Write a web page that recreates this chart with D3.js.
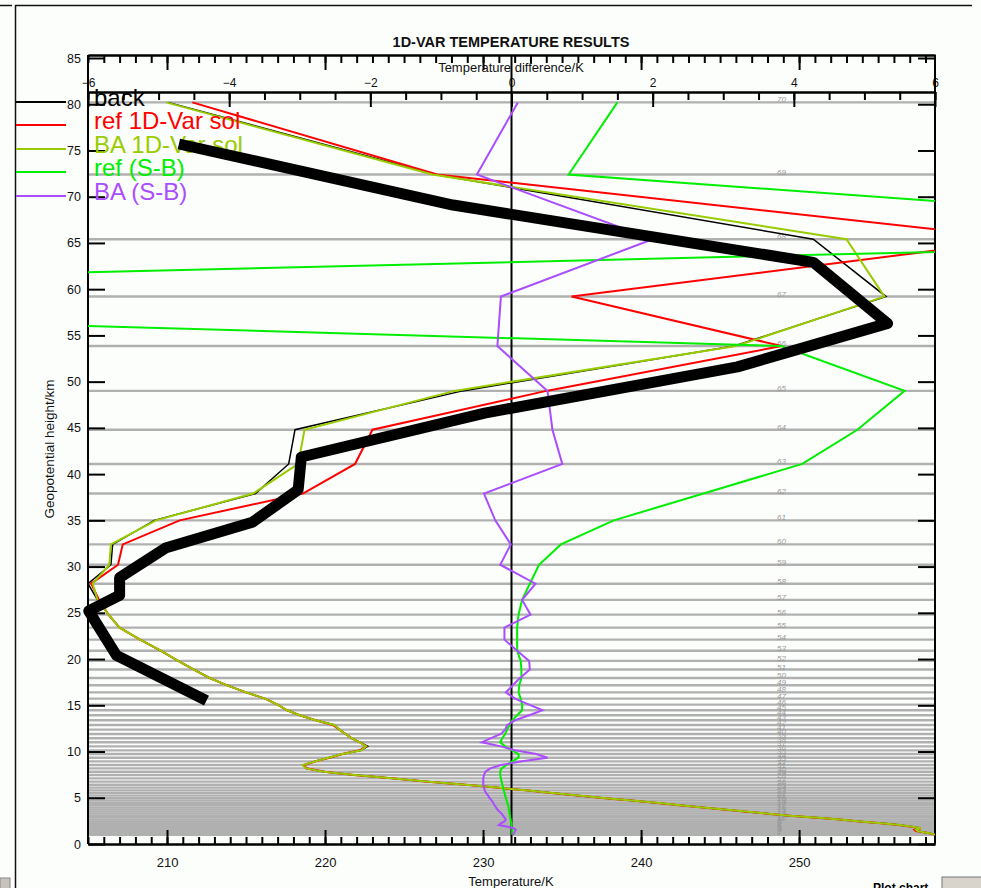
<!DOCTYPE html>
<html>
<head>
<meta charset="utf-8">
<script src="https://cdn.jsdelivr.net/npm/d3@7"></script>
<style>
  body { margin: 0; background: #fcfefc; }
  svg { display: block; font-family: "Liberation Sans", Arial, sans-serif; }
</style>
</head>
<body>
<div id="chart"></div>
<script>
// model levels (number, geopotential height in km)
const levelNumbers = [1, 2, 3, 4, 5, 6, 7, 8, 9, 10,
  11, 12, 13, 14, 15, 16, 17, 18, 19, 20,
  21, 22, 23, 24, 25, 26, 27, 28, 29, 30,
  31, 32, 33, 34, 35, 36, 37, 38, 39, 40,
  41, 42, 43, 44, 45, 46, 47, 48, 49, 50,
  51, 52, 53, 54, 55, 56, 57, 58, 59, 60,
  61, 62, 63, 64, 65, 66, 67, 68, 69, 70];
const levelHeights = [1.00, 1.12, 1.25, 1.39, 1.54, 1.70, 1.87, 2.05, 2.24, 2.44,
  2.64, 2.85, 3.06, 3.28, 3.50, 3.73, 3.96, 4.20, 4.45, 4.70,
  4.96, 5.23, 5.51, 5.80, 6.10, 6.41, 6.74, 7.10, 7.46, 7.82,
  8.18, 8.54, 8.94, 9.33, 9.73, 10.13, 10.56, 11.00, 11.43, 11.90,
  12.37, 12.87, 13.38, 13.92, 14.46, 15.07, 15.72, 16.40, 17.16, 17.95,
  18.87, 19.80, 20.90, 22.10, 23.40, 24.80, 26.40, 28.15, 30.20, 32.40,
  35.00, 37.90, 41.10, 44.80, 49.00, 53.85, 59.20, 65.40, 72.40, 80.20];

// temperatures (K) on the levels
const backTemp = [258.6, 258.4, 258.0, 257.5, 257.4, 257.7, 257.2, 256.4, 255.2, 253.9,
  252.6, 251.2, 249.4, 248.1, 246.7, 245.3, 243.9, 242.5, 240.9, 239.4,
  237.8, 236.1, 234.4, 232.7, 230.9, 228.9, 226.6, 224.2, 221.9, 219.9,
  218.8, 218.6, 219.4, 220.2, 221.1, 222.3, 222.7, 222.2, 221.7, 221.3,
  220.9, 220.6, 219.4, 218.4, 217.6, 217.0, 216.2, 215.0, 213.8, 212.7,
  211.7, 210.7, 209.6, 208.3, 207.0, 206.3, 205.6, 205.0, 206.45, 206.56,
  209.2, 215.6, 217.7, 218.1, 228.7, 245.9, 255.5, 250.9, 227.0, 210.06];
const refSolTemp = [258.6, 258.3, 258.0, 257.4, 257.3, 257.7, 257.1, 256.3, 255.2, 253.8,
  252.6, 251.1, 249.4, 248.0, 246.7, 245.2, 243.9, 242.4, 240.9, 239.4,
  237.7, 236.1, 234.3, 232.7, 230.8, 228.9, 226.5, 224.2, 221.8, 220.0,
  218.8, 218.7, 219.4, 220.3, 221.1, 222.2, 222.6, 222.2, 221.7, 221.3,
  220.9, 220.5, 219.4, 218.4, 217.6, 217.0, 216.2, 215.0, 213.8, 212.7,
  211.7, 210.7, 209.6, 208.3, 207.0, 206.3, 205.7, 205.2, 206.9, 207.2,
  210.8, 218.6, 221.9, 223.0, 234.0, 248.9, 235.6, 264.3, 227.1, 211.6];
const baSolTemp = [258.6, 258.4, 258.0, 257.5, 257.4, 257.7, 257.2, 256.4, 255.2, 253.9,
  252.6, 251.2, 249.4, 248.1, 246.8, 245.3, 243.9, 242.5, 241.0, 239.4,
  237.8, 236.2, 234.4, 232.7, 230.9, 228.9, 226.6, 224.2, 221.9, 219.9,
  218.8, 218.6, 219.4, 220.2, 221.1, 222.3, 222.6, 222.2, 221.7, 221.3,
  220.9, 220.6, 219.4, 218.4, 217.6, 217.0, 216.2, 215.0, 213.8, 212.7,
  211.7, 210.7, 209.6, 208.3, 207.0, 206.3, 205.6, 205.3, 206.35, 206.45,
  209.3, 215.45, 218.3, 218.7, 228.2, 246.0, 255.4, 253.0, 226.8, 209.95];

// solution minus background (K) on the levels
const refDiff = [0.01, 0.01, 0.01, 0.01, 0.01, 0.01, 0.0, 0.0, 0.0, -0.01,
  -0.01, -0.02, -0.02, -0.03, -0.03, -0.04, -0.04, -0.05, -0.06, -0.07,
  -0.08, -0.09, -0.10, -0.11, -0.12, -0.13, -0.14, -0.15, -0.16, -0.16,
  -0.14, -0.07, 0.01, 0.10, 0.10, 0.01, -0.09, -0.16, -0.13, -0.09,
  -0.06, -0.03, 0.01, 0.08, 0.15, 0.15, 0.13, 0.10, 0.11, 0.14,
  0.14, 0.13, 0.08, 0.08, 0.08, 0.10, 0.15, 0.26, 0.39, 0.70,
  1.45, 2.72, 4.12, 4.90, 5.57, 3.82, -20.3, 13.5, 0.81, 1.50];
const baDiff = [0.02, 0.03, 0.04, 0.05, 0.06, 0.03, -0.05, -0.18, -0.15, -0.10,
  -0.08, -0.10, -0.12, -0.14, -0.17, -0.20, -0.22, -0.24, -0.26, -0.28,
  -0.31, -0.33, -0.36, -0.38, -0.39, -0.40, -0.40, -0.40, -0.39, -0.37,
  -0.30, -0.15, 0.15, 0.51, 0.35, 0.05, -0.15, -0.42, -0.30, -0.15,
  -0.09, -0.06, 0.05, 0.25, 0.44, 0.25, 0.05, -0.08, 0.02, 0.12,
  0.26, 0.25, 0.08, -0.10, -0.10, 0.27, 0.15, 0.34, -0.16, -0.01,
  -0.23, -0.39, 0.72, 0.58, 0.51, -0.20, -0.15, 2.0, -0.49, 0.09];

// thick black profile
const thickTemp = [210.75, 228.1, 250.9, 255.6, 246.1, 230.1, 218.5, 218.3, 215.4, 209.9, 207.0, 207.0, 205.05, 206.8, 212.5];
const thickHeight = [75.7, 69.1, 62.9, 56.3, 51.6, 46.6, 41.85, 38.3, 34.8, 32.0, 28.8, 26.9, 25.2, 20.4, 15.5];

const legendLabels = ['back', 'ref 1D-Var sol', 'BA 1D-Var sol', 'ref (S-B)', 'BA (S-B)'];
const legendColors = ['#000000', '#ff0000', '#99cc00', '#00ee00', '#aa4dff'];
const tempTicks = [210, 220, 230, 240, 250];
const diffTicks = [-6, -4, -2, 0, 2, 4, 6];
const heightTicks = [0, 5, 10, 15, 20, 25, 30, 35, 40, 45, 50, 55, 60, 65, 70, 75, 80, 85];

const width = 981, height = 888;
const plotL = 88, plotR = 935, plotT = 55, plotB = 844;

const svg = d3.select('#chart').append('svg')
  .attr('width', width)
  .attr('height', height);

svg.append('rect').attr('width', width).attr('height', height).attr('fill', '#fcfefc');

const x = d3.scaleLinear().domain([205, 258.6]).range([plotL, plotR]);
const xd = d3.scaleLinear().domain([-6, 6]).range([plotL, plotR]);
const y = d3.scaleLinear().domain([0, 85]).range([plotB, 58]);

// outer window frame
svg.append('line').attr('x1', 15).attr('x2', 972).attr('y1', 5.5).attr('y2', 5.5)
  .attr('stroke', '#111').attr('stroke-width', 1.5);
svg.append('line').attr('x1', 0).attr('x2', 12).attr('y1', 5.5).attr('y2', 5.5)
  .attr('stroke', '#111').attr('stroke-width', 1.5);
svg.append('line').attr('x1', 15.5).attr('x2', 15.5).attr('y1', 5).attr('y2', height)
  .attr('stroke', '#111').attr('stroke-width', 1.5);
svg.append('rect').attr('x', 0).attr('y', 878).attr('width', 10).attr('height', 12)
  .attr('fill', '#c8c4bc').attr('stroke', '#888');
svg.append('rect').attr('x', 942).attr('y', 877).attr('width', 42).attr('height', 14)
  .attr('fill', '#d8d4cc').attr('stroke', '#777');
svg.append('text').attr('x', 873).attr('y', 892).attr('font-size', 12).attr('font-weight', 'bold')
  .text('Plot chart');

// model level lines
const levels = levelNumbers.map((n, i) => ({ n: n, h: levelHeights[i] }));
svg.append('g').selectAll('line').data(levels).enter().append('line')
  .attr('x1', plotL).attr('x2', plotR)
  .attr('y1', d => y(d.h)).attr('y2', d => y(d.h))
  .attr('stroke', '#b0b0b0').attr('stroke-width', 2.4);
svg.append('g').selectAll('text').data(levels).enter().append('text')
  .attr('x', 777).attr('y', d => y(d.h))
  .attr('font-size', 8).attr('font-style', 'italic').attr('fill', '#9a9a9a')
  .text(d => d.n);

// axes
function styleAxis(g, size) {
  g.selectAll('path, line').attr('stroke', '#000').attr('stroke-width', 2);
  g.selectAll('text').attr('font-size', size || 12.5).attr('fill', '#111')
    .attr('font-family', '"Liberation Sans", Arial, sans-serif');
  g.attr('font-family', null);
}

// bottom temperature axis (ticks inward)
svg.append('g').attr('transform', `translate(0,${plotB})`)
  .call(d3.axisBottom(x).tickValues(d3.range(205, 259, 1)).tickSize(-7).tickSizeOuter(0).tickFormat(''))
  .call(styleAxis);
svg.append('g').attr('transform', `translate(0,${plotB})`)
  .call(d3.axisBottom(x).tickValues(tempTicks).tickSize(-14).tickSizeOuter(0).tickPadding(14).tickFormat(d3.format('d')))
  .call(g => styleAxis(g, 13));

// top box line with mirrored temperature ticks
svg.append('g').attr('transform', `translate(0,${plotT})`)
  .call(d3.axisBottom(x).tickValues(d3.range(205, 259, 1)).tickSize(8).tickSizeOuter(0).tickFormat(''))
  .call(styleAxis);
svg.append('g').attr('transform', `translate(0,${plotT})`)
  .call(d3.axisBottom(x).tickValues(tempTicks).tickSize(15).tickSizeOuter(0).tickFormat(''))
  .call(styleAxis);

// temperature difference axis
svg.append('g').attr('transform', 'translate(0,92)')
  .call(d3.axisTop(xd).tickValues(d3.range(-6, 6.01, 0.5)).tickSize(-8).tickSizeOuter(0).tickFormat(''))
  .call(styleAxis);
svg.append('g').attr('transform', 'translate(0,92)')
  .call(d3.axisTop(xd).tickValues(diffTicks).tickSize(-15).tickSizeOuter(0).tickPadding(5).tickFormat(d3.format('d')))
  .call(g => styleAxis(g, 12))
  .call(g => g.selectAll('text').attr('dy', '0em'));

// height axes
svg.append('g').attr('transform', `translate(${plotL},0)`)
  .call(d3.axisLeft(y).tickValues(heightTicks).tickSize(-17).tickSizeOuter(0).tickPadding(7))
  .call(styleAxis)
  .call(g => g.select('.domain').attr('d', `M0,${plotT}V${plotB}`));
svg.append('g').attr('transform', `translate(${plotR},0)`)
  .call(d3.axisRight(y).tickValues(heightTicks).tickSize(-17).tickSizeOuter(0).tickFormat(''))
  .call(styleAxis)
  .call(g => g.select('.domain').attr('d', `M0,${plotT}V${plotB}`));

// zero difference line
svg.append('line').attr('x1', xd(0)).attr('x2', xd(0)).attr('y1', plotT).attr('y2', plotB)
  .attr('stroke', '#000').attr('stroke-width', 2);

// titles
svg.append('text').attr('x', 511).attr('y', 47).attr('text-anchor', 'middle')
  .attr('font-size', 14.5).attr('font-weight', 'bold').attr('fill', '#111')
  .text('1D-VAR TEMPERATURE RESULTS');
svg.append('text').attr('x', 511).attr('y', 72).attr('text-anchor', 'middle')
  .attr('font-size', 13).attr('fill', '#111')
  .text('Temperature difference/K');
svg.append('text').attr('x', 511).attr('y', 886).attr('text-anchor', 'middle')
  .attr('font-size', 13).attr('fill', '#111')
  .text('Temperature/K');
svg.append('text').attr('transform', 'translate(54,449) rotate(-90)').attr('text-anchor', 'middle')
  .attr('font-size', 13.5).attr('fill', '#111')
  .text('Geopotential height/km');

// profiles
svg.append('clipPath').attr('id', 'plot')
  .append('rect').attr('x', plotL).attr('y', plotT).attr('width', plotR - plotL).attr('height', plotB - plotT);

const line = d3.line().x(d => d[0]).y(d => d[1]);
const tempPts = arr => arr.map((t, i) => [x(t), y(levelHeights[i])]);
const diffPts = arr => arr.map((t, i) => [xd(t), y(levelHeights[i])]);

const profiles = [
  { pts: tempPts(backTemp), color: legendColors[0], w: 1.5 },
  { pts: tempPts(refSolTemp), color: legendColors[1], w: 2 },
  { pts: tempPts(baSolTemp), color: legendColors[2], w: 2 },
  { pts: diffPts(refDiff), color: legendColors[3], w: 2 },
  { pts: diffPts(baDiff), color: legendColors[4], w: 2 }
];

svg.append('g').attr('clip-path', 'url(#plot)')
  .selectAll('path').data(profiles).enter().append('path')
  .attr('d', d => line(d.pts))
  .attr('fill', 'none')
  .attr('stroke', d => d.color)
  .attr('stroke-width', d => d.w);

// legend
const legendY = [102, 125, 149, 172, 196];
const legend = svg.append('g').selectAll('g').data(legendLabels).enter().append('g');
legend.append('line')
  .attr('x1', 16).attr('x2', 66)
  .attr('y1', (d, i) => legendY[i]).attr('y2', (d, i) => legendY[i])
  .attr('stroke', (d, i) => legendColors[i]).attr('stroke-width', 2);
legend.append('text')
  .attr('x', 94).attr('y', (d, i) => legendY[i] + 4)
  .attr('font-size', 24)
  .attr('fill', (d, i) => legendColors[i])
  .text(d => d);

// thick black profile on top
svg.append('path')
  .attr('d', line(thickTemp.map((t, i) => [x(t), y(thickHeight[i])])))
  .attr('fill', 'none')
  .attr('stroke', '#000')
  .attr('stroke-width', 11)
  .attr('stroke-linejoin', 'round')
  .attr('stroke-linecap', 'butt');
</script>
</body>
</html>
